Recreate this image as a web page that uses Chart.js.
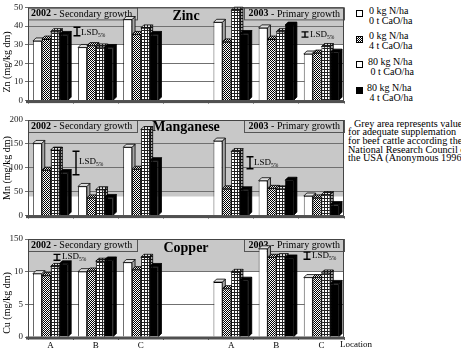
<!DOCTYPE html>
<html><head><meta charset="utf-8">
<script src="https://cdn.jsdelivr.net/npm/chart.js@4.4.1/dist/chart.umd.min.js"></script>
<style>
html,body{margin:0;padding:0;background:#fff;width:461px;height:353px;overflow:hidden;position:relative;font-family:"Liberation Serif",serif;}
.leg{position:absolute;font-size:10px;line-height:10px;color:#000;white-space:nowrap}
.sw{position:absolute;width:7px;height:7px;border:1px solid #000;box-sizing:border-box}
#note{position:absolute;left:348px;top:119.5px;font-size:10.2px;line-height:8.7px;white-space:nowrap;color:#000}
#note .ind{padding-left:6px}
</style></head><body>
<div class="sw" style="left:356px;top:10px;background:#fff"></div>
<div class="leg" style="left:369px;top:6px">0 kg N/ha<br>0 t CaO/ha</div>
<div class="sw" style="left:356px;top:36px;background:repeating-conic-gradient(#000 0 25%,#fff 0 50%) 0 0/2px 2px"></div>
<div class="leg" style="left:369px;top:31px">0 kg N/ha<br>4 t CaO/ha</div>
<div class="sw" style="left:356px;top:61px;background:#fff linear-gradient(90deg,#222 1px,transparent 1px) 0 0/3px 3px,linear-gradient(#222 1px,transparent 1px) 0 0/3px 3px"></div>
<div class="leg" style="left:368px;top:57px">80 kg N/ha<br>&nbsp;0 t CaO/ha</div>
<div class="sw" style="left:356px;top:87px;background:#000"></div>
<div class="leg" style="left:367px;top:83px">80 kg N/ha<br>&nbsp;4 t CaO/ha</div>
<div id="note"><span class="ind">Grey area represents values</span><br>for adequate supplemation<br>for beef cattle according the<br>National Research Council of<br>the USA (Anonymous 1996)</div>
<script>
// ---------- data ----------
const categories = ['A','B','C','','A','B','C'];
const seriesNames = ['0 kg N/ha, 0 t CaO/ha','0 kg N/ha, 4 t CaO/ha','80 kg N/ha, 0 t CaO/ha','80 kg N/ha, 4 t CaO/ha'];
const periodYears = ['2002','2003'];
const periodGrowth = [' - Secondary growth',' - Primary growth'];

const znN0Ca0  = [32, 28.5, 43.5, null, 42, 39, 25];
const znN0Ca4  = [33, 29.5, 35.5, null, 31.5, 33, 25.5];
const znN80Ca0 = [37, 28.8, 39, null, 48.5, 37, 29];
const znN80Ca4 = [35.5, 28.5, 35.5, null, 36, 40.5, 26];

const mnN0Ca0  = [151, 61, 143, null, 156, 73, 41];
const mnN0Ca4  = [95, 37, 97, null, 56, 57, 37];
const mnN80Ca0 = [137, 54, 180, null, 134, 56, 44];
const mnN80Ca4 = [90, 38, 115, null, 54, 74, 23];

const cuN0Ca0  = [9.7, 10, 11.4, null, 8.4, 13.5, 9.1];
const cuN0Ca4  = [9.4, 10.1, 10.3, null, 7.4, 12.2, 9.1];
const cuN80Ca0 = [10.8, 11.6, 12.2, null, 9.9, 12.3, 9.8];
const cuN80Ca4 = [11.2, 11.8, 10.8, null, 8.7, 12.1, 8.2];

const znTicks = [0,10,20,30,40,50];
const mnTicks = [0,50,100,150,200];
const cuTicks = [0,5,10,15];
const cuTickLabels = ['0','5','10','150'];

const znAdequate = 30, mnAdequate = 40, cuAdequate = 10;
const znLSD = [4.6, 2.8];
const mnLSD = [49, 25];
const cuLSD = [0.9, 1.1];

// ---------- fills ----------
function pattern(kind){
  const c = document.createElement('canvas');
  const g = c.getContext('2d');
  if(kind==='checker'){
    c.width = c.height = 2;
    g.fillStyle='#fff'; g.fillRect(0,0,2,2);
    g.fillStyle='#000'; g.fillRect(0,0,1,1); g.fillRect(1,1,1,1);
  } else {
    c.width = c.height = 3;
    g.fillStyle='#fff'; g.fillRect(0,0,3,3);
    g.fillStyle='#222'; g.fillRect(0,0,3,1); g.fillRect(0,0,1,3);
  }
  return g.createPattern(c,'repeat');
}
const fills = ['#ffffff', pattern('checker'), pattern('grid'), '#000000'];
const FONT = '"Liberation Serif", "Times New Roman", serif';

function drawLSD(ctx, scale, lsd, p){
  const half = (scale.getPixelForValue(0) - scale.getPixelForValue(lsd))/2;
  ctx.save();
  ctx.strokeStyle='#000'; ctx.lineWidth=1.4;
  ctx.beginPath();
  ctx.moveTo(p.x, p.cy-half); ctx.lineTo(p.x, p.cy+half);
  ctx.moveTo(p.x-3.5, p.cy-half); ctx.lineTo(p.x+3.5, p.cy-half);
  ctx.moveTo(p.x-3.5, p.cy+half); ctx.lineTo(p.x+3.5, p.cy+half);
  ctx.stroke();
  ctx.fillStyle='#000'; ctx.textBaseline='middle'; ctx.textAlign='left';
  ctx.font = '9px '+FONT;
  ctx.fillText('LSD', p.tx, p.ty);
  const w = ctx.measureText('LSD').width;
  ctx.font = '5.5px '+FONT;
  ctx.fillText('5%', p.tx+w, p.ty+2.5);
  ctx.restore();
}

function panel(cfg){
  const canvas = document.createElement('canvas');
  canvas.width = 461; canvas.height = cfg.h;
  canvas.style.cssText = `position:absolute;left:0;top:${cfg.top}px;width:461px;height:${cfg.h}px`;
  document.body.appendChild(canvas);

  const decor = {
    id:'decor'+cfg.name,
    beforeDraw(chart){
      const {ctx, chartArea:a} = chart;
      const ys = chart.scales.y;
      const t = ys.getPixelForValue(cfg.adequate);
      ctx.save();
      ctx.fillStyle='#fff'; ctx.fillRect(a.left, a.top, a.right-a.left, a.bottom-a.top);
      ctx.fillStyle='#c8c8c8'; ctx.fillRect(a.left, a.top, a.right-a.left, t-a.top);
      ctx.restore();
    },
    beforeDatasetsDraw(chart){
      const {ctx, chartArea:a} = chart;
      const ys = chart.scales.y;
      ctx.save();
      const bh = 12;
      ctx.fillStyle='#c8c8c8'; ctx.strokeStyle='#555'; ctx.lineWidth=1;
      ctx.fillRect(a.left, a.top, 137-a.left, bh);
      ctx.strokeRect(a.left+0.5, a.top+0.5, 137-a.left, bh);
      ctx.fillRect(244, a.top, a.right-244, bh);
      ctx.strokeRect(244.5, a.top+0.5, a.right-244, bh);
      ctx.fillStyle='#000'; ctx.textBaseline='middle'; ctx.textAlign='left';
      const ty = a.top + bh/2 + 0.5;
      ctx.font='bold 10px '+FONT;
      ctx.fillText(periodYears[0], a.left+3, ty);
      let w = ctx.measureText(periodYears[0]).width;
      ctx.font='10px '+FONT;
      ctx.fillText(periodGrowth[0], a.left+3+w, ty);
      ctx.font='bold 10px '+FONT;
      const w1 = ctx.measureText(periodYears[1]).width;
      ctx.font='10px '+FONT;
      const w2 = ctx.measureText(periodGrowth[1]).width;
      const sx = a.right - 4 - w1 - w2;
      ctx.font='bold 10px '+FONT;
      ctx.fillText(periodYears[1], sx, ty);
      ctx.font='10px '+FONT;
      ctx.fillText(periodGrowth[1], sx+w1, ty);
      cfg.lsd.forEach((v,i)=>drawLSD(ctx, ys, v, cfg.lsdPos[i]));
      const d = 3;
      chart.data.datasets.forEach((ds,i)=>{
        const meta = chart.getDatasetMeta(i);
        meta.data.forEach((bar,j)=>{
          if(ds.data[j]==null) return;
          const {x,y,base,width} = bar.getProps(['x','y','base','width'], true);
          const l = x-width/2, r = x+width/2;
          ctx.lineWidth=0.8; ctx.strokeStyle='#000';
          ctx.beginPath();
          ctx.moveTo(r,y); ctx.lineTo(r+d,y-d); ctx.lineTo(r+d,base-d); ctx.lineTo(r,base); ctx.closePath();
          ctx.fillStyle=ds.backgroundColor; ctx.fill();
          ctx.fillStyle='rgba(0,0,0,0.35)'; ctx.fill(); ctx.stroke();
          ctx.beginPath();
          ctx.moveTo(l,y); ctx.lineTo(l+d,y-d); ctx.lineTo(r+d,y-d); ctx.lineTo(r,y); ctx.closePath();
          ctx.fillStyle=ds.backgroundColor; ctx.fill();
          ctx.fillStyle='rgba(0,0,0,0.12)'; ctx.fill(); ctx.stroke();
        });
      });
      ctx.restore();
    },
    afterDraw(chart){
      const {ctx, chartArea:a} = chart;
      ctx.save();
      ctx.strokeStyle='#444'; ctx.lineWidth=1;
      ctx.beginPath();
      ctx.moveTo(a.left+0.5, a.bottom); ctx.lineTo(a.left+0.5, a.top+0.5); ctx.lineTo(a.right-0.5, a.top+0.5); ctx.lineTo(a.right-0.5, a.bottom);
      ctx.stroke();
      ctx.fillStyle='#505050';
      ctx.fillRect(a.left-2, a.bottom-0.5, a.right-a.left+2, 3);
      ctx.fillStyle='#000'; ctx.textAlign='center'; ctx.textBaseline='middle';
      ctx.font='bold 14px '+FONT;
      ctx.fillText(cfg.name, (a.left+a.right)/2, a.top+cfg.nameDy);
      ctx.translate(7, cfg.titleY); ctx.rotate(-Math.PI/2);
      ctx.font='10px '+FONT;
      ctx.fillText(cfg.yTitle, 0, 0);
      ctx.restore();
      if(cfg.extraText){
        ctx.save();
        ctx.fillStyle='#000'; ctx.textAlign='left'; ctx.textBaseline='middle';
        ctx.font='9px '+FONT;
        ctx.fillText(cfg.extraText, 340, a.bottom+8);
        ctx.restore();
      }
    }
  };

  return new Chart(canvas, {
    type:'bar',
    data:{
      labels: categories,
      datasets: cfg.series.map((s,i)=>({
        label: seriesNames[i], data: s, backgroundColor: fills[i],
        borderColor:'#000', borderWidth:0.8,
        categoryPercentage:0.78, barPercentage:1
      }))
    },
    options:{
      responsive:false, animation:false, devicePixelRatio:1,
      layout:{padding:{top:cfg.padTop, left:0, right:117, bottom:0}},
      plugins:{legend:{display:false}, tooltip:{enabled:false}},
      scales:{
        x:{
          grid:{display:true, drawOnChartArea:false, drawTicks:true, tickLength:3, color:'#555', offset:true},
          border:{display:false},
          ticks:{display:cfg.showX, padding:0, autoSkip:false, maxRotation:0, color:'#000', font:{family:FONT, size:9}},
          afterFit(s){ s.height = cfg.xh; }
        },
        y:{
          min:0, max:cfg.max,
          afterBuildTicks(s){ s.ticks = cfg.ticks.map(v=>({value:v})); },
          ticks:{padding:2, color:'#222', font:{family:FONT, size:9},
                 callback:(v)=> cfg.tickLabels ? cfg.tickLabels[cfg.ticks.indexOf(v)] : String(v)},
          grid:{color:'#707070', lineWidth:1, drawTicks:true, tickLength:3},
          border:{display:true, color:'#333'},
          afterFit(s){ s.width = 28; }
        }
      }
    },
    plugins:[decor]
  });
}

panel({name:'Zinc', top:0, h:108, padTop:6, xh:5, showX:false,
  series:[znN0Ca0, znN0Ca4, znN80Ca0, znN80Ca4], max:50, ticks:znTicks, adequate:znAdequate,
  lsd:znLSD, lsdPos:[{x:77, cy:31.5, tx:81, ty:33},{x:305, cy:34.5, tx:310, ty:35}],
  yTitle:'Zn (mg/kg dm)', titleY:62, nameDy:9});
panel({name:'Manganese', top:108, h:115, padTop:12, xh:5, showX:false,
  series:[mnN0Ca0, mnN0Ca4, mnN80Ca0, mnN80Ca4], max:200, ticks:mnTicks, adequate:mnAdequate,
  lsd:mnLSD, lsdPos:[{x:76, cy:55, tx:79, ty:53.7},{x:250, cy:54.7, tx:254, ty:55}],
  yTitle:'Mn (mg/kg dm)', titleY:60, nameDy:7});
panel({name:'Copper', top:223, h:130, padTop:16, xh:16, showX:true, extraText:'Location',
  series:[cuN0Ca0, cuN0Ca4, cuN80Ca0, cuN80Ca4], max:15, ticks:cuTicks, tickLabels:cuTickLabels, adequate:cuAdequate,
  lsd:cuLSD, lsdPos:[{x:57, cy:34.3, tx:62, ty:34},{x:307, cy:32.7, tx:312, ty:33}],
  yTitle:'Cu (mg/kg dm)', titleY:80, nameDy:9});
</script>
</body></html>
